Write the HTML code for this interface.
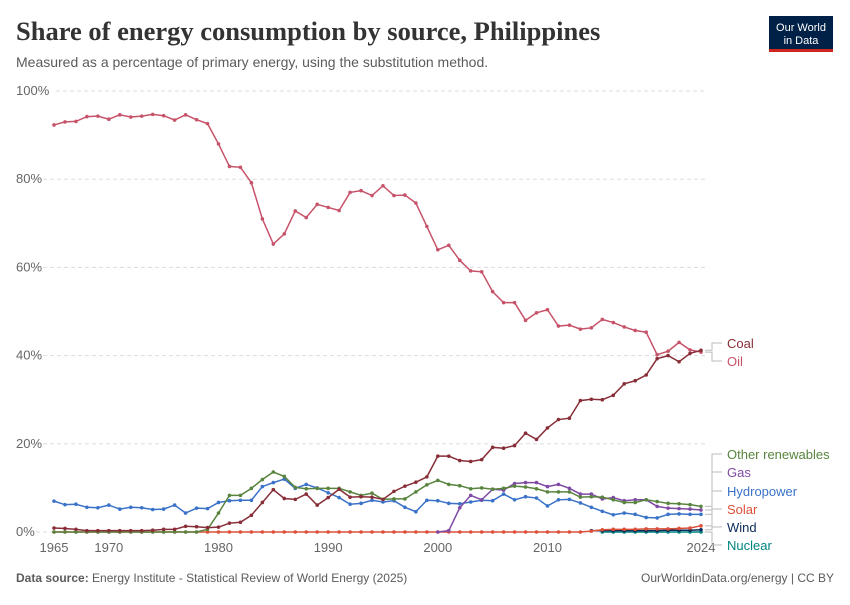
<!DOCTYPE html>
<html><head><meta charset="utf-8"><style>
body{margin:0;background:#fff;width:850px;height:600px;overflow:hidden;font-family:"Liberation Sans",sans-serif}
svg text{font-family:"Liberation Sans",sans-serif}
</style></head><body>
<svg id="c" width="850" height="600">
<text x="16" y="40" font-size="26.5" font-weight="bold" fill="#333" style="font-family:'Liberation Serif',serif">Share of energy consumption by source, Philippines</text>
<text x="16" y="67" font-size="14" fill="#5b5b5b">Measured as a percentage of primary energy, using the substitution method.</text>
<g><rect x="769" y="16" width="64" height="34" fill="#002147"/><rect x="769" y="49" width="64" height="3" fill="#ce261e"/>
<text x="801" y="31" font-size="11" fill="#fff" text-anchor="middle">Our World</text><text x="801" y="44" font-size="11" fill="#fff" text-anchor="middle">in Data</text></g>
<g id="grid"></g><g id="series"></g><g id="labels"></g>
<text x="16" y="582" font-size="12" fill="#5b5b5b"><tspan font-weight="bold">Data source:</tspan> Energy Institute - Statistical Review of World Energy (2025)</text>
<text x="834" y="582" font-size="12" fill="#5b5b5b" text-anchor="end">OurWorldinData.org/energy | CC BY</text>
</svg>
<script>
const years=[];for(let y=1965;y<=2024;y++)years.push(y);
const yTicks=[0,20,40,60,80,100];
const xTicks=[1965,1970,1980,1990,2000,2010,2024];
const oil=[92.3,93,93.1,94.2,94.3,93.6,94.6,94.1,94.3,94.7,94.4,93.4,94.6,93.5,92.6,88,82.9,82.7,79.2,71,65.3,67.6,72.8,71.3,74.3,73.6,72.9,77,77.4,76.3,78.5,76.3,76.4,74.6,69.3,64,65,61.6,59.2,59,54.5,52,52,48,49.7,50.4,46.7,46.9,46,46.3,48.2,47.5,46.5,45.7,45.3,40.2,41,43,41.3,40.8];
const coal=[0.9,0.8,0.6,0.3,0.3,0.3,0.3,0.3,0.3,0.4,0.6,0.6,1.3,1.2,1.0,1.1,2.0,2.2,3.8,6.7,9.6,7.6,7.4,8.6,6.1,7.8,9.7,7.9,8.0,7.9,7.4,9.2,10.4,11.3,12.5,17.2,17.2,16.2,16,16.4,19.2,19,19.6,22.4,21,23.6,25.5,25.8,29.8,30.1,30,31,33.6,34.3,35.6,39.3,40,38.6,40.5,41.2];
const otherRen=[0,0,0,0,0,0,0,0,0,0,0,0,0,0,0.6,4.3,8.3,8.3,9.9,11.9,13.6,12.6,10.1,9.8,9.9,9.9,9.9,9.1,8.3,8.8,7.4,7.5,7.5,9.1,10.7,11.7,10.8,10.5,9.8,10.0,9.7,9.9,10.4,10.2,9.8,9.1,9.1,9.1,7.9,8.0,7.9,7.3,6.7,6.7,7.3,6.9,6.5,6.4,6.2,5.8];
const hydro=[7.0,6.2,6.3,5.6,5.5,6.1,5.2,5.6,5.5,5.1,5.2,6.1,4.3,5.4,5.3,6.7,7.1,7.2,7.2,10.3,11.2,12,9.9,10.8,10,8.9,7.8,6.3,6.5,7.2,6.8,7.1,5.6,4.6,7.2,7.1,6.5,6.4,6.8,7.2,7.1,8.6,7.3,8,7.7,5.9,7.3,7.4,6.6,5.6,4.7,3.9,4.3,4,3.3,3.2,4,4.1,4,4];
const gas=[null,null,null,null,null,null,null,null,null,null,null,null,null,null,null,null,null,null,null,null,null,null,null,null,null,null,null,null,null,null,null,null,null,null,null,0,0.3,5.5,8.3,7.3,9.7,9.5,11,11.2,11.2,10.3,10.8,9.9,8.6,8.6,7.5,7.8,7.1,7.3,7.3,5.8,5.4,5.3,5.2,5.0];
const solar=[0,0,0,0,0,0,0,0,0,0,0,0,0,0,0,0,0,0,0,0,0,0,0,0,0,0,0,0,0,0,0,0,0,0,0,0,0,0,0,0,0,0,0,0,0,0,0,0,0,0.2,0.5,0.6,0.6,0.6,0.7,0.7,0.7,0.8,0.9,1.4];
const wind=[null,null,null,null,null,null,null,null,null,null,null,null,null,null,null,null,null,null,null,null,null,null,null,null,null,null,null,null,null,null,null,null,null,null,null,null,null,null,null,null,null,null,null,null,null,null,null,null,null,0.3,0.3,0.3,0.3,0.3,0.3,0.3,0.4,0.4,0.4,0.5];
const nuclear=[null,null,null,null,null,null,null,null,null,null,null,null,null,null,null,null,null,null,null,null,null,null,null,null,null,null,null,null,null,null,null,null,null,null,null,null,null,null,null,null,null,null,null,null,null,null,null,null,null,null,0,0,0,0,0,0,0,0,0,0];
const seriesNames=["Nuclear","Wind","Solar","Hydropower","Gas","Other renewables","Oil","Coal"];
const seriesData=[nuclear,wind,solar,hydro,gas,otherRen,oil,coal];
const seriesColors=["#00847e","#0a2a5c","#dc5038","#3a72c8","#7f4aa3","#58843e","#c7536a","#882e38"];
const labelY={"Coal":343,"Oil":361,"Other renewables":454,"Gas":472,"Hydropower":491,"Solar":509,"Wind":527,"Nuclear":545};
const X0=54,X1=701,Y0=532,Y1=91;
const x=y=>X0+(y-1965)*(X1-X0)/(2024-1965);
const yS=v=>Y0-v*(Y0-Y1)/100;
const NS="http://www.w3.org/2000/svg";
function mk(t,a,p){const e=document.createElementNS(NS,t);for(const k in a)e.setAttribute(k,a[k]);p.appendChild(e);return e;}
const grid=document.getElementById('grid');
yTicks.forEach(t=>{
 const l=mk('line',{x1:t==100?56:36,x2:705,y1:yS(t),y2:yS(t),stroke:'#ddd','stroke-dasharray':'4,3'},grid);
 
 
 const tx=mk('text',{x:16,y:yS(t)+4,'font-size':13,fill:'#666'},grid);tx.textContent=t+'%';
 
 
});
xTicks.forEach(t=>{
 const tx=mk('text',{x:x(t),y:552,'font-size':13,fill:'#666','text-anchor':'middle'},grid);tx.textContent=t;
 
 
});
const sg=document.getElementById('series');
seriesData.forEach((d,i)=>{
 const g=mk('g',{},sg);
 
 
 const pts=[];d.forEach((v,j)=>{if(v!==null)pts.push(x(years[j])+','+yS(v));});
 mk('polyline',{points:pts.join(' '),fill:'none',stroke:seriesColors[i],'stroke-width':1.5},g);
 d.forEach((v,j)=>{if(v===null)return;const c=mk('circle',{cx:x(years[j]),cy:yS(v),r:1.8,fill:seriesColors[i]},g);
  
  });
});
const lg=document.getElementById('labels');
seriesData.forEach((d,i)=>{
 const n=seriesNames[i],ly=labelY[n],ey=yS(d[d.length-1]);
 mk('polyline',{points:`705,${ey} 712,${ey} 712,${ly} 722,${ly}`,fill:'none',stroke:'#bbb','stroke-width':1},lg);
 const t=mk('text',{x:727,y:ly+5,'font-size':13,fill:seriesColors[i]},lg);t.textContent=n;
 
 
});
</script>
</body></html>
